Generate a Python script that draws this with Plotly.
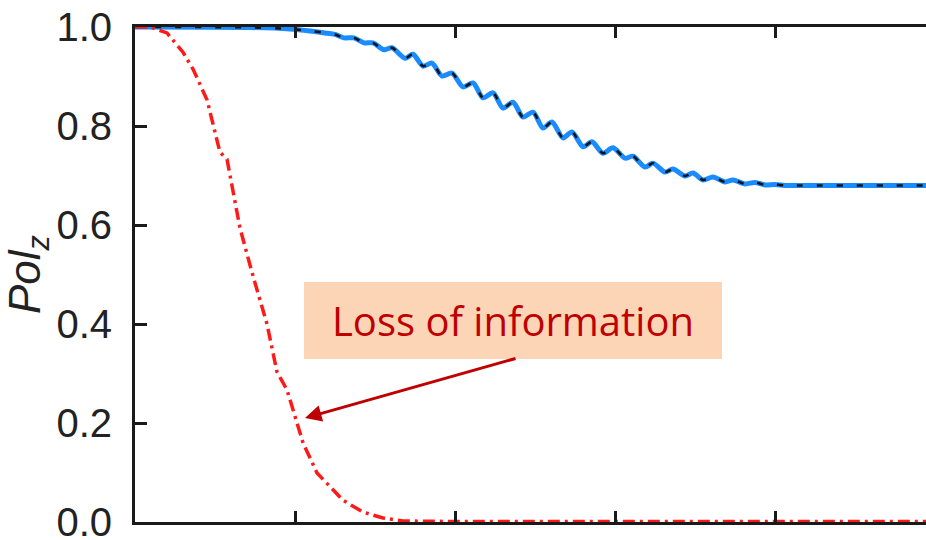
import plotly.graph_objects as go

# Polarisation along z versus time (tick labels on the time axis are not shown)
t_coherent = [0.0, 0.719, 0.969, 1.094, 1.1875, 1.25, 1.306, 1.369, 1.431, 1.4875,
              1.556, 1.606, 1.6875, 1.7375, 1.8, 1.856, 1.919, 1.981, 2.05, 2.1125,
              2.175, 2.2375, 2.3, 2.3625, 2.425, 2.4875, 2.55, 2.606, 2.675, 2.731,
              2.8, 2.856, 2.925, 2.9875, 3.0625, 3.1125, 3.1875, 3.2375, 3.3125, 3.3625,
              3.4375, 3.4875, 3.55, 3.6125, 3.6875, 3.7375, 3.8125, 3.875, 3.9375, 4.0,
              4.0625, 4.156, 5.0]
pol_coherent = [1.0, 0.999, 0.996, 0.992, 0.988, 0.985, 0.978, 0.978, 0.968, 0.968,
                0.954, 0.958, 0.937, 0.945, 0.921, 0.927, 0.901, 0.907, 0.879, 0.887,
                0.857, 0.867, 0.836, 0.848, 0.818, 0.828, 0.796, 0.808, 0.776, 0.788,
                0.758, 0.768, 0.745, 0.756, 0.735, 0.739, 0.717, 0.725, 0.707, 0.713,
                0.699, 0.705, 0.691, 0.697, 0.687, 0.691, 0.683, 0.686, 0.681, 0.682,
                0.680, 0.680, 0.680]

t_lossy = [0.0, 0.094, 0.2, 0.3, 0.3625, 0.45, 0.531, 0.575, 0.656, 0.7375,
           0.825, 0.8875, 0.95, 1.0125, 1.05, 1.1375, 1.219, 1.3, 1.425, 1.55,
           1.675, 2.0, 3.0, 4.0, 5.0]
pol_lossy = [1.0, 1.0, 0.988, 0.949, 0.915, 0.853, 0.747, 0.733, 0.594, 0.497,
             0.4, 0.303, 0.267, 0.198, 0.160, 0.099, 0.071, 0.044, 0.020, 0.008,
             0.002, 0.001, 0.001, 0.001, 0.001]

y_ticks = [0.0, 0.2, 0.4, 0.6, 0.8, 1.0]
y_tick_text = ["0.0", "0.2", "0.4", "0.6", "0.8", "1.0"]

fig = go.Figure()

fig.add_trace(go.Scatter(
    x=t_coherent, y=pol_coherent, mode="lines",
    line=dict(color="#1a8cff", width=5, shape="spline", smoothing=0.8),
    showlegend=False, hoverinfo="skip"))
fig.add_trace(go.Scatter(
    x=t_coherent, y=pol_coherent, mode="lines",
    line=dict(color="#111111", width=2.5, dash="6px,14px", shape="spline", smoothing=0.8),
    showlegend=False, hoverinfo="skip"))
fig.add_trace(go.Scatter(
    x=t_lossy, y=pol_lossy, mode="lines",
    line=dict(color="#ff1a1a", width=3.5, dash="12px,5px,3px,5px"),
    showlegend=False, hoverinfo="skip"))

axis_col = "#1a1a1a"
fig.update_xaxes(
    range=[0, 4.94375], dtick=1, tick0=0, automargin=False,
    showline=True, linecolor=axis_col, linewidth=3, mirror="ticks",
    ticks="inside", ticklen=11, tickwidth=2.5, tickcolor=axis_col,
    showticklabels=False, showgrid=False, zeroline=False)
fig.update_yaxes(
    range=[0, 1.0], tickvals=y_ticks, ticktext=y_tick_text, automargin=False,
    showline=True, linecolor=axis_col, linewidth=3, mirror=False,
    ticks="inside", ticklen=12, tickwidth=2.5, tickcolor=axis_col,
    ticklabelstandoff=12, ticklabeloverflow="allow",
    tickfont=dict(family="Liberation Sans, Arial, sans-serif", size=40, color="#222222"),
    title=dict(text="<i>Pol</i><sub><i>z</i></sub>", standoff=8,
               font=dict(family="Liberation Sans, Arial, sans-serif", size=44, color="#222222")),
    showgrid=False, zeroline=False)

# Callout box
fig.add_annotation(
    x=2.3625, y=0.407, xref="x", yref="y",
    text="Loss of information", showarrow=False,
    font=dict(family="Open Sans, Noto Sans, sans-serif", size=40, color="#c00000"),
    bgcolor="#fbd5b5", width=410, height=69, borderpad=4, borderwidth=0,
    align="center", valign="middle")
# Arrow pointing at the lossy curve
fig.add_annotation(
    x=1.0625, y=0.21, xref="x", yref="y", text="",
    showarrow=True, ax=212, ay=-60, axref="pixel", ayref="pixel",
    arrowhead=2, arrowsize=1.1, arrowwidth=3, arrowcolor="#c00000")

fig.update_layout(
    width=926, height=540,
    margin=dict(l=135, r=0, t=27, b=18),
    plot_bgcolor="white", paper_bgcolor="white")

fig.write_html("out.html")
